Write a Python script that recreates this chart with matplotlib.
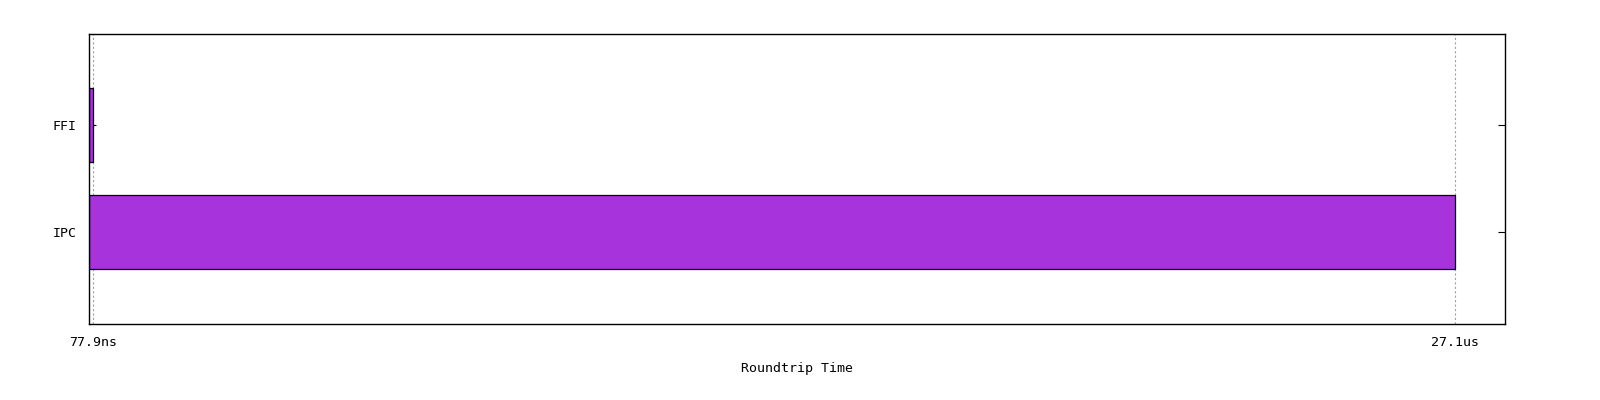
import matplotlib
matplotlib.use("Agg")
import matplotlib.pyplot as plt

# roundtrip times in nanoseconds
labels = ["IPC", "FFI"]
times_ns = [27100.0, 77.9]
tick_values = [77.9, 27100.0]
tick_labels = ["77.9ns", "27.1us"]

bar_color = "#a633db"

plt.rcParams['font.family'] = ['DejaVu Sans Mono']

fig = plt.figure(figsize=(16, 4), dpi=100)
ax = fig.add_axes([89 / 1600, 76 / 400, 1416 / 1600, 290 / 400])

ypos = list(range(len(labels)))
ax.barh(ypos, times_ns, height=0.70, color=bar_color, edgecolor="black", linewidth=0.9, zorder=3)

ax.set_xlim(0, max(times_ns) * 1416 / 1366)
ax.set_ylim(-0.86, 1.85)

ax.set_xticks(tick_values)
ax.set_xticklabels(tick_labels)
ax.set_yticks(ypos)
ax.set_yticklabels(labels)
ax.grid(axis="x", color="#a0a0a0", linestyle=(0, (2, 2)), linewidth=0.8, zorder=0)

ax.tick_params(axis="y", direction="in", length=5, right=True, left=True, labelsize=9.5, pad=9)
ax.tick_params(axis="x", direction="in", length=0, labelsize=9.5, pad=9)
for s in ax.spines.values():
    s.set_linewidth(1.0)
    s.set_zorder(4)

ax.set_xlabel("Roundtrip Time", fontsize=9.5, labelpad=9)

fig.savefig("out.png", dpi=100)
